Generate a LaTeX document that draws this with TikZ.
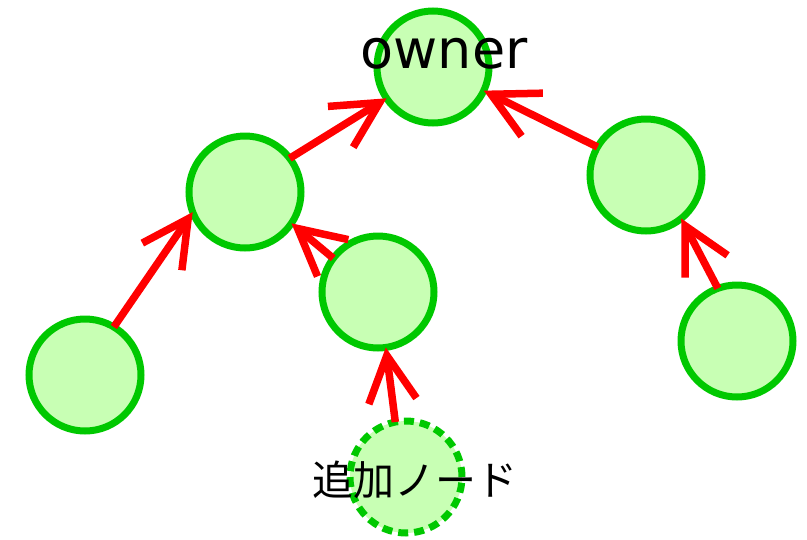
\documentclass[tikz,border=0pt]{standalone}
\usepackage{fontspec}
\setmainfont{DejaVu Sans}
\newfontfamily\jpfont{Noto Sans CJK JP}
\usetikzlibrary{arrows.meta}
\definecolor{nodefill}{RGB}{200,255,180}
\definecolor{nodeline}{RGB}{0,200,0}
\definecolor{linkred}{RGB}{255,0,0}
\begin{document}
\begin{tikzpicture}[x=1pt,y=-1pt,
  treenode/.style={circle,draw=nodeline,fill=nodefill,line width=7pt,minimum size=112pt,inner sep=0pt,outer sep=0pt},
  newnode/.style={treenode,dash pattern=on 10pt off 6pt},
  link/.style={draw=linkred,line width=7.5pt,line cap=butt,
    -{Straight Barb[length=46pt,width=48pt,line width=7.5pt,line cap=butt,line join=miter]}}]
\useasboundingbox (0,0) rectangle (807,539);
% tree nodes
\node[treenode] (owner) at (433,67) {};
\node[treenode] (lmid) at (245,192) {};
\node[treenode] (rmid) at (646,175) {};
\node[treenode] (mid) at (378,292) {};
\node[treenode] (lleaf) at (85,375) {};
\node[treenode] (rleaf) at (737,341) {};
\node[newnode] (added) at (406,477) {};
% labels
\node[font=\fontsize{54}{60}\selectfont,inner sep=0pt] (ownertext) at (444,54) {owner};
\node[font=\fontsize{41}{46}\selectfont\jpfont,inner sep=0pt] (addedtext) at (415,480) {追加ノード};
% parent links, each from child to parent
\draw[link] (lmid.37) -- (owner.214);
\draw[link] (rmid.150) -- (owner.335);
\draw[link] (lleaf.59) -- (lmid.201);
\draw[link] (mid.143) -- (lmid.326);
\draw[link] (rleaf.110) -- (rmid.309);
\draw[link] (added.101) -- (mid.278);
\end{tikzpicture}
\end{document}
